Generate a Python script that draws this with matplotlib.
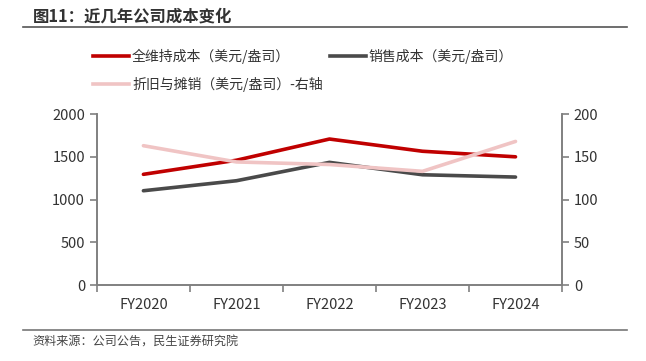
import matplotlib
matplotlib.use("Agg")
import matplotlib.pyplot as plt
from matplotlib.lines import Line2D

plt.rcParams['font.family'] = ['Noto Sans CJK SC', 'DejaVu Sans']

categories = ["FY2020", "FY2021", "FY2022", "FY2023", "FY2024"]
aisc = [1295, 1460, 1708, 1565, 1500]
cost_of_sales = [1103, 1220, 1435, 1290, 1263]
dda = [163, 144, 141, 133, 168]
left_ticks = [0, 500, 1000, 1500, 2000]
right_ticks = [0, 50, 100, 150, 200]

names = ["全维持成本（美元/盎司）", "销售成本（美元/盎司）", "折旧与摊销（美元/盎司）-右轴"]
colors = ["#C00000", "#4A4A4A", "#F0C4C4"]

fig = plt.figure(figsize=(6.46, 3.61), dpi=100)
ax = fig.add_axes([0.150, 0.2105, 0.720, 0.4735])
ax2 = ax.twinx()

x = list(range(len(categories)))
ax.plot(x, aisc, color=colors[0], lw=2.6, solid_capstyle='round', zorder=3)
ax.plot(x, cost_of_sales, color=colors[1], lw=2.6, solid_capstyle='round', zorder=2)
ax2.plot(x, dda, color=colors[2], lw=2.6, solid_capstyle='round', zorder=4)

ax.set_xlim(-0.5, len(categories) - 0.5)
ax.set_ylim(0, 2000)
ax2.set_ylim(0, 200)
ax.set_yticks(left_ticks)
ax2.set_yticks(right_ticks)
ax.set_xticks([i - 0.5 for i in range(len(categories) + 1)], minor=False)
ax.set_xticklabels([""] * (len(categories) + 1))
ax.set_xticks(x, minor=True)
ax.set_xticklabels(categories, minor=True)

spine_c = "#808080"
for a in (ax, ax2):
    a.spines["top"].set_visible(False)
    for s in ("left", "right", "bottom"):
        a.spines[s].set_color(spine_c)
        a.spines[s].set_linewidth(1.2)
ax.tick_params(axis='x', which='major', length=5, color=spine_c, width=1.2)
ax.tick_params(axis='x', which='minor', length=0, labelsize=10.5, labelcolor="#333333", pad=9)
ax.tick_params(axis='y', length=5, color=spine_c, width=1.2, labelsize=10.5, labelcolor="#333333")
ax2.tick_params(axis='y', length=5, color=spine_c, width=1.2, labelsize=10.5, labelcolor="#333333")

# legend
handles = [Line2D([0], [0], color=c, lw=2.6) for c in colors]
fig.legend(handles[:2], names[:2], loc='upper left', bbox_to_anchor=(0.125, 0.899),
           ncol=2, frameon=False, fontsize=10, handlelength=2.6, handletextpad=0.2,
           columnspacing=2.85, labelcolor="#333333")
fig.legend(handles[2:], names[2:], loc='upper left', bbox_to_anchor=(0.125, 0.822),
           frameon=False, fontsize=10, handlelength=2.6, handletextpad=0.2,
           labelcolor="#333333")

# title and source
fig.text(0.051, 0.953, "图11：近几年公司成本变化", fontsize=11.8, fontweight='bold',
         color="#333333", va='center', ha='left')
fig.add_artist(Line2D([0.036, 0.970], [0.925, 0.925], color="#555555", lw=1.2))
fig.add_artist(Line2D([0.036, 0.970], [0.086, 0.086], color="#777777", lw=1.2))
fig.text(0.050, 0.053, "资料来源：公司公告，民生证券研究院", fontsize=8.7, color="#444444",
         va='center', ha='left')

fig.savefig("out.png", dpi=100)
